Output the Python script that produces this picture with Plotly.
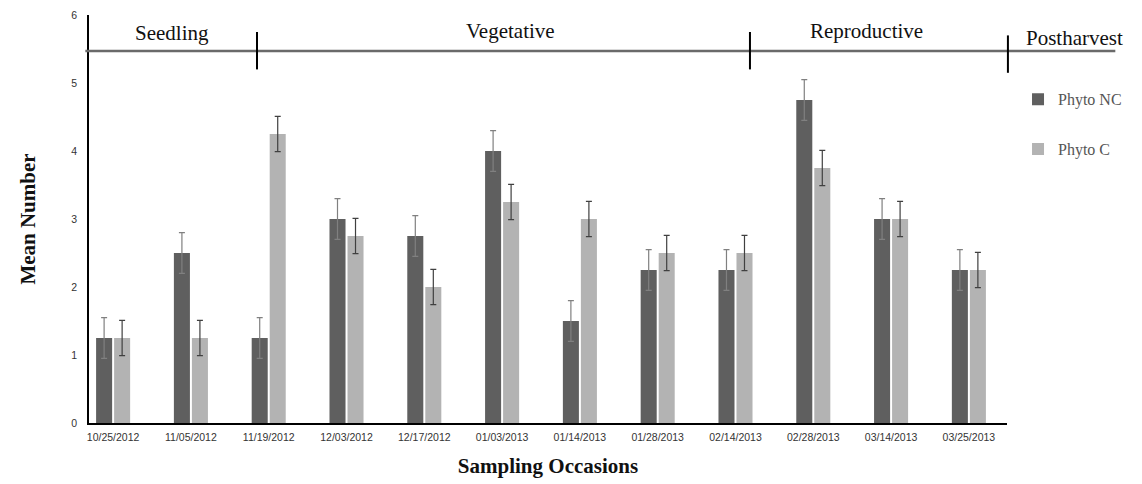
import plotly.graph_objects as go

dates = ["10/25/2012", "11/05/2012", "11/19/2012", "12/03/2012", "12/17/2012", "01/03/2013",
         "01/14/2013", "01/28/2013", "02/14/2013", "02/28/2013", "03/14/2013", "03/25/2013"]
phyto_nc = [1.25, 2.5, 1.25, 3.0, 2.75, 4.0, 1.5, 2.25, 2.25, 4.75, 3.0, 2.25]
phyto_c = [1.25, 1.25, 4.25, 2.75, 2.0, 3.25, 3.0, 2.5, 2.5, 3.75, 3.0, 2.25]
err_nc = [0.3] * 12
err_c = [0.26] * 12

phases = ["Seedling", "Vegetative", "Reproductive", "Postharvest"]
phase_label_x = [0.0905, 0.459, 0.847, 1.074]
phase_label_y = [5.73, 5.76, 5.76, 5.66]
phase_breaks = [0.183, 0.72, 1.001]

SERIF = "Liberation Serif, Times New Roman, serif"

fig = go.Figure()
fig.add_trace(go.Bar(
    x=dates, y=phyto_nc, name="Phyto NC", legendgroup="a",
    marker=dict(color="#5f5f5f", line=dict(width=0)),
    error_y=dict(type="data", array=err_nc, color="#808080", thickness=1.2, width=3),
))
fig.add_trace(go.Bar(
    x=dates, y=phyto_c, name="Phyto C", legendgroup="b",
    marker=dict(color="#b3b3b3", line=dict(width=0)),
    error_y=dict(type="data", array=err_c, color="#404040", thickness=1.2, width=3),
))

# header line
fig.add_shape(type="line", xref="paper", yref="y", x0=-0.004, x1=1.118, y0=5.47, y1=5.47,
              line=dict(color="#6a6a6a", width=2.5))
for bx, dy in zip(phase_breaks, [0.0, 0.0, -0.05]):
    fig.add_shape(type="line", xref="paper", yref="y", x0=bx, x1=bx, y0=5.2 + dy, y1=5.75 + dy,
                  line=dict(color="black", width=2))
for name, px, py in zip(phases, phase_label_x, phase_label_y):
    fig.add_annotation(text=name, xref="paper", yref="y", x=px, y=py, showarrow=False,
                       font=dict(family=SERIF, size=21, color="#111111"),
                       xanchor="center", yanchor="middle")

fig.update_layout(
    width=1142, height=484,
    margin=dict(l=81, r=143, t=7, b=69),
    paper_bgcolor="white", plot_bgcolor="white",
    barmode="group", bargap=0.537, bargroupgap=0.11,
    showlegend=True,
    legend=dict(x=1.012, y=0.835, xanchor="left", yanchor="top",
                font=dict(family=SERIF, size=16, color="#555555"),
                tracegroupgap=26, itemwidth=30, bgcolor="rgba(0,0,0,0)"),
    xaxis=dict(
        range=[-0.31, 11.49], automargin=False, ticklabelstandoff=4,
        showline=True, linecolor="black", linewidth=1.5, showgrid=False, ticks="",
        tickfont=dict(family="Liberation Sans", size=10.5, color="#333333"),
        title=dict(text="<b>Sampling Occasions</b>", standoff=16,
                   font=dict(family=SERIF, size=21, color="#111111")),
    ),
    yaxis=dict(
        range=[0, 6], dtick=1, showline=True, linecolor="black", linewidth=1.5,
        showgrid=False, ticks="", zeroline=False, automargin=False, ticklabelstandoff=8,
        tickfont=dict(family="Liberation Sans", size=10.5, color="#333333"),
        title=dict(text="<b>Mean Number</b>", standoff=30,
                   font=dict(family=SERIF, size=21, color="#111111")),
    ),
)

fig.write_html("out.html")
